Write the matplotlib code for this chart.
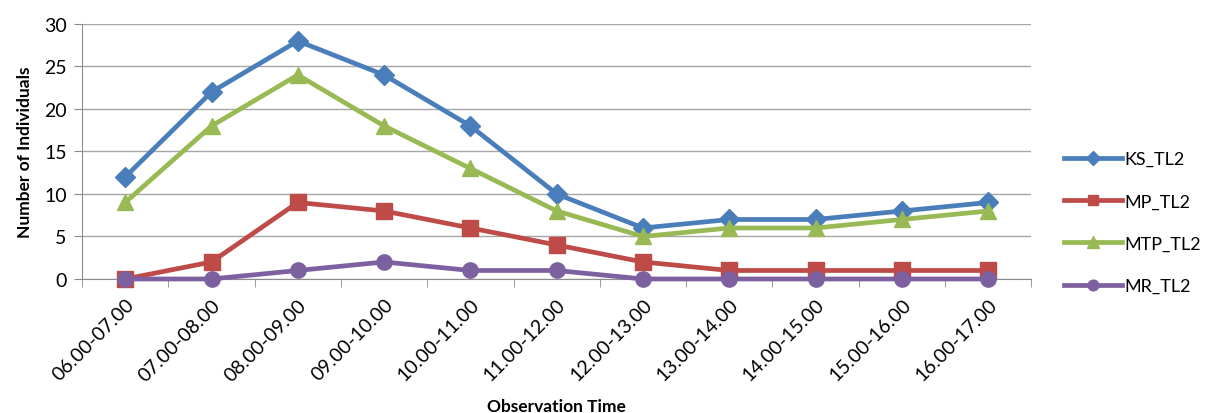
import numpy as np
import matplotlib.pyplot as plt

periods = ["06.00-07.00", "07.00-08.00", "08.00-09.00", "09.00-10.00",
           "10.00-11.00", "11.00-12.00", "12.00-13.00", "13.00-14.00",
           "14.00-15.00", "15.00-16.00", "16.00-17.00"]

ks_tl2 = [12, 22, 28, 24, 18, 10, 6, 7, 7, 8, 9]
mp_tl2 = [0, 2, 9, 8, 6, 4, 2, 1, 1, 1, 1]
mtp_tl2 = [9, 18, 24, 18, 13, 8, 5, 6, 6, 7, 8]
mr_tl2 = [0, 0, 1, 2, 1, 1, 0, 0, 0, 0, 0]

plt.rcParams['font.family'] = ['Lato', 'DejaVu Sans']

fig = plt.figure(figsize=(12.12, 4.14), dpi=100)
ax = fig.add_axes([0.0677, 0.3237, 0.7833, 0.616])

x = np.arange(len(periods))
series = [
    ("KS_TL2", ks_tl2, "#4A7EBB", "D", 10),
    ("MP_TL2", mp_tl2, "#BE4B48", "s", 11),
    ("MTP_TL2", mtp_tl2, "#98B954", "^", 12),
    ("MR_TL2", mr_tl2, "#7D60A0", "o", 11),
]
for name, vals, col, mk, ms in series:
    ax.plot(x, vals, color=col, lw=3.4, marker=mk, markersize=ms,
            markeredgecolor=col, label=name, zorder=3, clip_on=False)

ax.set_xlim(-0.5, len(periods) - 0.5)
ax.set_ylim(0, 30)
ax.set_yticks(np.arange(0, 31, 5))
ax.yaxis.grid(True, color="#a6a6a6", lw=1)
ax.set_axisbelow(True)

# category labels sit on the points, tick marks go between categories
ax.set_xticks(x)
ax.set_xticklabels(periods, rotation=45, ha="right", va="top",
                   rotation_mode="anchor", fontsize=14)
ax.set_xticks(np.arange(-0.5, len(periods)), minor=True)
ax.tick_params(axis="x", which="major", length=0, pad=12)
ax.tick_params(axis="x", which="minor", length=6, color="#8c8c8c")
ax.tick_params(axis="y", length=6, color="#8c8c8c", labelsize=14, pad=5)

for s in ["top", "right"]:
    ax.spines[s].set_visible(False)
for s in ["left", "bottom"]:
    ax.spines[s].set_color("#8c8c8c")

ax.set_ylabel("Number of Individuals", fontsize=12.5, fontweight="bold", labelpad=8)
ax.set_xlabel("Observation Time", fontsize=12.5, fontweight="bold", labelpad=10)

fig.legend(loc="center left", bbox_to_anchor=(0.872, 0.46), frameon=False,
           fontsize=13, labelspacing=1.45, handlelength=3.2,
           handletextpad=0.15, markerscale=0.7, borderaxespad=0)

fig.savefig("out.png", dpi=100)
